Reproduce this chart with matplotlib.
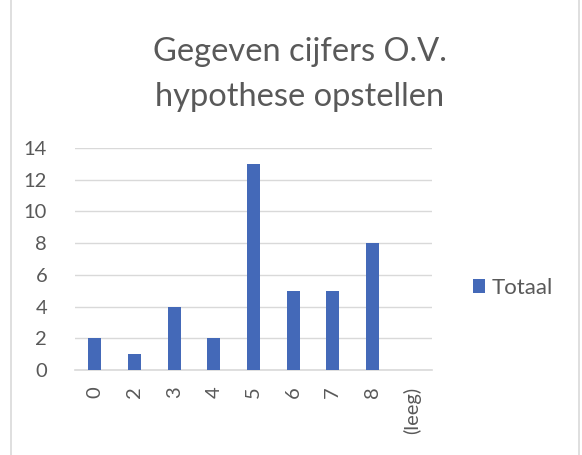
import matplotlib
matplotlib.use("Agg")
from matplotlib import pyplot as plt
from matplotlib.patches import Rectangle

categories = ["0", "2", "3", "4", "5", "6", "7", "8", "(leeg)"]
totaal = [2, 1, 4, 2, 13, 5, 5, 8, 0]
y_ticks = [0, 2, 4, 6, 8, 10, 12, 14]

plt.rcParams["font.family"] = ["Lato", "DejaVu Sans"]
TEXT = "#595959"

fig = plt.figure(figsize=(5.82, 4.55), dpi=100)
W, H = 582, 455

# chart area border (cut off at top and bottom in the reference)
fig.patches.append(Rectangle((11 / W, -0.05), 568 / W, 1.1, transform=fig.transFigure,
                             fill=False, edgecolor="#d9d9d9", linewidth=1.2))

ax = fig.add_axes([75 / W, 1 - 370 / H, 357 / W, 222 / H])
x = range(len(categories))
ax.bar(x, totaal, width=0.33, color="#4469B8", label="Totaal", zorder=3)

ax.set_xlim(-0.5, len(categories) - 0.5)
ax.set_ylim(0, 14)
ax.set_yticks(y_ticks)
ax.set_xticks(list(x))
ax.set_xticklabels(categories, rotation=90)
ax.grid(axis="y", color="#d9d9d9", linewidth=1, zorder=0)
for side in ["top", "right", "left"]:
    ax.spines[side].set_visible(False)
ax.spines["bottom"].set_color("#d9d9d9")
ax.spines["bottom"].set_linewidth(1.2)
ax.tick_params(length=0, labelsize=14.5, labelcolor=TEXT)
ax.tick_params(axis="y", pad=20)
ax.tick_params(axis="x", pad=12)

fig.text(300 / W, 1 - 52 / H, "Gegeven cijfers O.V.", ha="center", va="center",
         fontsize=23.5, color=TEXT)
fig.text(300 / W, 1 - 97 / H, "hypothese opstellen", ha="center", va="center",
         fontsize=23.5, color=TEXT)

fig.legend(loc="center left", bbox_to_anchor=(453 / W, 1 - 288 / H), frameon=False,
           fontsize=16, labelcolor=TEXT, handlelength=0.55, handleheight=0.55,
           handletextpad=0.3)

fig.savefig("out.png", dpi=100)
